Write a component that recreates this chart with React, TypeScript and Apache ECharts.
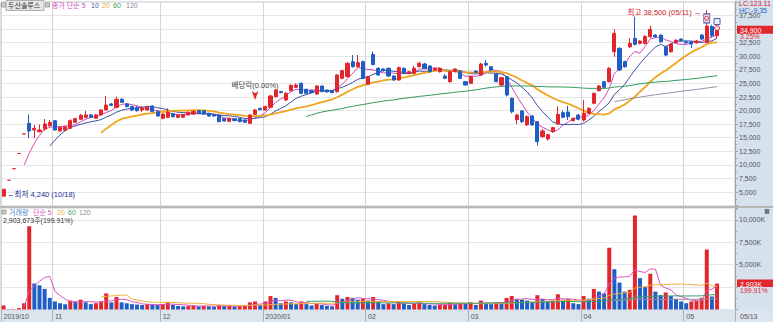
import React, { useEffect, useRef } from "react";
import * as echarts from "echarts";

// ---------- categories ----------
const monthKeys = ["2019/10", "2019/11", "2019/12", "2020/01", "2020/02", "2020/03", "2020/04", "2020/05"];
const monthTickLabels = ["2019/10", "11", "12", "2020/01", "02", "03", "04", "05"];
const daysOct = [18, 21, 22, 23, 24, 25, 28, 29, 30, 31];
const daysNov = [1, 4, 5, 6, 7, 8, 11, 12, 13, 14, 15, 18, 19, 20, 21, 22, 25, 26, 27, 28, 29];
const daysDec = [2, 3, 4, 5, 6, 9, 10, 11, 12, 13, 16, 17, 18, 19, 20, 23, 24, 26, 27, 30];
const daysJan = [2, 3, 6, 7, 8, 9, 10, 13, 14, 15, 16, 17, 20, 21, 22, 23, 28, 29, 30, 31];
const daysFeb = [3, 4, 5, 6, 7, 10, 11, 12, 13, 14, 17, 18, 19, 20, 21, 24, 25, 26, 27, 28];
const daysMar = [2, 3, 4, 5, 6, 9, 10, 11, 12, 13, 16, 17, 18, 19, 20, 23, 24, 25, 26, 27, 30, 31];
const daysApr = [1, 2, 3, 6, 7, 8, 9, 10, 13, 14, 16, 17, 20, 21, 22, 23, 24, 27, 28, 29];
const daysMay = [4, 6, 7, 8, 11, 12, 13];
const tradingDays = [daysOct, daysNov, daysDec, daysJan, daysFeb, daysMar, daysApr, daysMay];
const emptySlots = 3;

// ---------- prices [open, close, low, high] ----------
const ohlcOct = [
  [4240, 5510, 4240, 5510], [7160, 7160, 7160, 7160], [9300, 9300, 9300, 9300], [12100, 12100, 12100, 12100],
  [15700, 15700, 15700, 15700], [17650, 16250, 14900, 19300], [16430, 16730, 14900, 17350], [16120, 16430, 15940, 17470],
  [16610, 17530, 16300, 18450], [17230, 17840, 17000, 18270],
];
const ohlcNov = [
  [18150, 16430, 16300, 18300], [16240, 16920, 16100, 17100], [16400, 17000, 16200, 17200], [16730, 18150, 16600, 18400],
  [17840, 18510, 17700, 18700], [18390, 19130, 18300, 19400], [18760, 19190, 18580, 19930], [19190, 18760, 18600, 19400],
  [18580, 19190, 18500, 19400], [19190, 20110, 19100, 20300], [20110, 21030, 20000, 22690], [21220, 20970, 20800, 21400],
  [20600, 22080, 20420, 22570], [22080, 21520, 21400, 22300], [21220, 20730, 20600, 21400], [20730, 20110, 19900, 20900],
  [20600, 19990, 19800, 20800], [20110, 20420, 19700, 20800], [20110, 20600, 20000, 20900], [20850, 19800, 19700, 21000],
  [19800, 19000, 18900, 20000],
];
const ohlcDec = [
  [18580, 19370, 18400, 19500], [18760, 19680, 18600, 20400], [19440, 18880, 18700, 19600], [18760, 19190, 18600, 19300],
  [18760, 19250, 18650, 19400], [19190, 19680, 19100, 19800], [19370, 19860, 19300, 20000], [19990, 19500, 19400, 20100],
  [19990, 19370, 19300, 20100], [19500, 19000, 18900, 19600], [19190, 19000, 18900, 19300], [19190, 17960, 17850, 19300],
  [18510, 18080, 17950, 18600], [18020, 18580, 17900, 18700], [18510, 18150, 18050, 18600], [18510, 17960, 17850, 18600],
  [18270, 17840, 17700, 18400], [17650, 19190, 17550, 19300], [19310, 20110, 19200, 20300], [20420, 20170, 20000, 20500],
];
const ohlcJan = [
  [20110, 20730, 20000, 20900], [20600, 22690, 20500, 22900], [22570, 23790, 22400, 24000], [23490, 23300, 23200, 23600],
  [21950, 23180, 21800, 23400], [23670, 24650, 23500, 24800], [24290, 24710, 24200, 25000], [25020, 23180, 23000, 25200],
  [23920, 23180, 23000, 24000], [23670, 23300, 23200, 23800], [23060, 24530, 22900, 24700], [24530, 23490, 23400, 24600],
  [23790, 23430, 23300, 23900], [23670, 23300, 23200, 23800], [23490, 26560, 23300, 26700], [25940, 27360, 25800, 27500],
  [26250, 28710, 26100, 28900], [29010, 28090, 27900, 30240], [28090, 28830, 27900, 30240], [29010, 25940, 25800, 29200],
];
const ohlcFeb = [
  [24840, 26250, 24700, 26400], [30330, 28490, 28300, 30900], [27790, 26560, 26400, 28000], [27660, 27350, 27200, 27800],
  [27790, 26370, 26200, 27900], [26370, 25640, 25500, 26500], [25640, 27910, 25500, 28100], [27790, 26860, 26700, 27900],
  [26860, 27170, 26700, 27300], [26860, 27790, 26700, 28200], [28090, 28710, 28000, 29010], [28580, 27790, 27700, 28800],
  [28220, 27170, 27000, 28300], [27480, 27790, 27300, 27900], [27170, 27790, 27000, 27900], [26370, 25940, 25800, 26700],
  [25330, 27170, 25100, 27300], [27170, 27660, 27000, 27800], [27170, 25940, 25800, 27300], [25330, 24710, 24600, 25400],
];
const ohlcMar = [
  [25020, 26250, 24900, 26400], [27290, 27050, 26900, 27400], [26560, 28580, 26400, 28800], [28710, 28400, 28090, 29320],
  [28090, 27480, 27300, 28200], [26740, 25330, 25200, 26900], [24710, 26070, 24500, 26200], [26250, 22870, 22600, 26400],
  [22260, 19800, 19500, 22400], [18330, 19190, 17500, 19400], [19930, 17960, 17700, 20100], [17350, 18880, 17200, 19100],
  [19000, 17350, 17200, 19200], [17960, 14280, 13540, 18100], [15200, 16240, 15000, 16600], [14770, 15570, 14500, 15700],
  [16120, 16860, 15900, 17000], [17530, 19310, 17400, 20800], [19620, 18760, 18600, 20000], [19740, 18880, 18270, 20850],
  [18150, 18580, 18000, 18700], [19190, 18390, 18200, 19400],
];
const ohlcApr = [
  [18270, 19500, 17960, 21950], [19500, 20420, 19400, 20600], [21340, 23180, 21200, 23300], [23670, 24530, 23500, 24700],
  [25330, 24290, 24200, 25400], [25330, 27790, 25200, 28000], [30830, 34230, 29900, 34970], [31450, 27480, 27300, 31700],
  [29010, 28090, 27900, 29200], [31760, 32370, 31500, 33300], [33290, 32190, 32000, 37280], [32370, 32800, 32200, 33000],
  [32370, 33660, 32200, 33900], [33600, 34950, 33400, 35630], [33900, 33600, 33400, 34100], [33900, 32680, 32500, 34000],
  [31760, 30220, 30000, 31900], [30830, 32250, 30700, 32400], [32550, 32980, 32400, 33100], [33170, 32860, 32700, 33300],
];
const ohlcMay = [
  [32680, 32490, 32300, 32800], [32680, 32250, 31500, 32800], [32490, 32800, 32300, 33000], [33900, 33170, 33000, 34100],
  [32550, 35560, 32400, 38500], [35470, 33800, 33500, 35800], [33800, 34900, 33300, 35200],
];

// ---------- volume (thousand shares) ----------
const volOct = [450, 40, 50, 150, 700, 9300, 2900, 2700, 2300, 1300];
const volNov = [900, 700, 600, 1000, 900, 1100, 800, 600, 700, 900, 1800, 800, 1400, 800, 700, 600, 550, 500, 600, 550, 500];
const volDec = [600, 800, 500, 400, 350, 400, 450, 350, 400, 350, 300, 500, 400, 450, 350, 380, 420, 800, 900, 500];
const volJan = [900, 1500, 1300, 700, 900, 800, 600, 900, 600, 450, 700, 500, 400, 350, 1600, 1200, 1400, 1300, 1100, 1200];
const volFeb = [1000, 1400, 900, 600, 700, 600, 900, 700, 500, 700, 800, 600, 500, 450, 500, 550, 800, 600, 700, 650];
const volMar = [800, 500, 1000, 700, 600, 800, 700, 1300, 1500, 1200, 1100, 1000, 800, 1600, 1200, 900, 1000, 1700, 1100, 1200, 700, 600];
const volApr = [1500, 1200, 2300, 2000, 1800, 6900, 4500, 3000, 2000, 2200, 10500, 3500, 2500, 4000, 2000, 1600, 1900, 1500, 1200, 900];
const volMay = [700, 900, 1000, 1300, 6700, 1452.5, 2903.673];

// ---------- annotations / texts ----------
const lowIdx = 0;
const highIdx = 137;
const exDivIdx = 49;
const lowText = "←최저 4,240 (10/18)";
const highText = "최고 38,500 (05/11) →";
const exDivText = "배당락(0.00%)";
const lcText = "LC:123.11";
const hcText = "HC:-9.35";
const lastDateText = "05/13";
const signalIdx = [137, 139];
const maPeriodsPrice = [5, 10, 20, 60, 120];
const maPeriodsVol = [5, 20, 60, 120];

const FONT = "'Liberation Sans', 'Noto Sans CJK KR', sans-serif";
const RED = "#e3262b";
const BLUE = "#1f5ec4";
const PANEL = "#d6e1ee";
const priceMaColors = ["#d24bb8", "#3f4fa6", "#efa51c", "#2f9b5a", "#9a8fa8"];
const volMaColors = ["#dd55c0", "#f0b03c", "#3aa06a", "#9a8fa8"];

function sma(arr: number[], n: number) {
  return arr.map((_, i) => {
    if (i < n - 1) return "-";
    let s = 0;
    for (let k = i - n + 1; k <= i; k++) s += arr[k];
    return +(s / n).toFixed(1);
  });
}

export default function App() {
  const ref = useRef<HTMLDivElement>(null);

  useEffect(() => {
    document.body.style.margin = "0";
    if (!ref.current) return;
    const chart = echarts.init(ref.current, undefined, { renderer: "svg" });

    const cats: string[] = [];
    const firstIdx = new Map<number, string>();
    tradingDays.forEach((days, m) => {
      days.forEach((d, j) => {
        if (j === 0) firstIdx.set(cats.length, monthTickLabels[m]);
        cats.push(`${monthKeys[m]}/${String(d).padStart(2, "0")}`);
      });
    });
    for (let k = 0; k < emptySlots; k++) cats.push(" ".repeat(k + 1));
    const isFirst = (i: number) => firstIdx.has(i);

    const ohlc = [...ohlcOct, ...ohlcNov, ...ohlcDec, ...ohlcJan, ...ohlcFeb, ...ohlcMar, ...ohlcApr, ...ohlcMay];
    const vols = [...volOct, ...volNov, ...volDec, ...volJan, ...volFeb, ...volMar, ...volApr, ...volMay];
    const closes = ohlc.map((r) => r[1]);
    const n = ohlc.length;
    const lastClose = closes[n - 1];
    const prevClose = closes[n - 2];
    const lastVol = vols[n - 1];
    const prevVol = vols[n - 2];
    const chg = (((lastClose - prevClose) / prevClose) * 100).toFixed(2) + "%";
    const vchg = ((lastVol / prevVol) * 100).toFixed(2) + "%";

    const volData = vols.map((v, i) => ({
      value: v,
      itemStyle: { color: i === 0 || v >= vols[i - 1] ? RED : BLUE },
    }));

    const fmt = (v: number) => v.toLocaleString("en-US");
    const lbl = (extra: any) => ({ fontFamily: FONT, fontSize: 7.5, ...extra });

    const markLineLabel = (main: string, sub: string, subBg: string) => ({
      show: true,
      position: "end",
      distance: 2,
      formatter: `{z| }\n{a|${main}}\n{b|${sub}}`,
      rich: {
        z: { fontFamily: FONT, fontSize: 7, lineHeight: 7, height: 7 },
        a: {
          fontFamily: FONT, fontSize: 7, lineHeight: 7, height: 7, width: 33,
          color: "#fff", backgroundColor: RED, padding: [1, 0, 0, 3],
        },
        b: {
          fontFamily: FONT, fontSize: 7, lineHeight: 7, height: 7, width: 33,
          color: RED, backgroundColor: subBg, padding: [0, 0, 0, 3],
        },
      },
    });

    const priceSeries: any[] = maPeriodsPrice.map((p, k) => ({
      type: "line",
      name: `MA${p}`,
      xAxisIndex: 0,
      yAxisIndex: 0,
      data: sma(closes, p),
      showSymbol: false,
      symbol: "none",
      silent: true,
      z: 1,
      lineStyle: { color: priceMaColors[k], width: p === 20 ? 1.8 : 1 },
    }));

    const volSeries: any[] = maPeriodsVol.map((p, k) => ({
      type: "line",
      name: `VMA${p}`,
      xAxisIndex: 1,
      yAxisIndex: 1,
      data: sma(vols, p),
      showSymbol: false,
      symbol: "none",
      silent: true,
      z: 3,
      lineStyle: { color: volMaColors[k], width: 1 },
    }));

    const signalMarks = [
      {
        coord: [cats[signalIdx[0]], ohlc[signalIdx[0]][3] - 1500],
        symbol: "rect", symbolSize: [6, 9],
        itemStyle: { color: "#f6dbe6", borderColor: "#4a5bb8", borderWidth: 1 },
      },
      {
        coord: [cats[signalIdx[0]], ohlc[signalIdx[0]][3] - 1500],
        symbol: "circle", symbolSize: 4,
        itemStyle: { color: "rgba(0,0,0,0)", borderColor: RED, borderWidth: 1 },
      },
      {
        coord: [cats[signalIdx[1]], ohlc[signalIdx[1]][3] + 1200],
        symbol: "rect", symbolSize: [6, 6],
        itemStyle: { color: "#eef0fb", borderColor: "#4a5bb8", borderWidth: 1 },
      },
      {
        coord: [cats[signalIdx[1]], ohlc[signalIdx[1]][3]],
        symbol: "circle", symbolSize: 5,
        itemStyle: { color: "#f6dbe6", borderColor: RED, borderWidth: 1 },
      },
    ];

    const option: any = {
      animation: false,
      textStyle: { fontFamily: FONT, fontSize: 7 },
      grid: [
        { left: 1, right: 38, top: 2, height: 203.6, show: true, backgroundColor: "#fff", borderColor: "#bdbdbd", borderWidth: 1 },
        { left: 1, right: 38, top: 208, height: 101.5, show: true, backgroundColor: "#fff", borderColor: "#bdbdbd", borderWidth: 1 },
      ],
      xAxis: [
        {
          type: "category", gridIndex: 0, data: cats, boundaryGap: true,
          axisLine: { show: false }, axisTick: { show: false }, axisLabel: { show: false },
          splitLine: { show: true, interval: isFirst, lineStyle: { color: "#d5d5d5", width: 1 } },
        },
        {
          type: "category", gridIndex: 1, data: cats, boundaryGap: true,
          axisLine: { show: false },
          axisTick: { show: true, interval: isFirst, length: 12, lineStyle: { color: "#a6b0bc" } },
          axisLabel: {
            show: true, interval: isFirst, align: "left", margin: 3, color: "#555",
            fontFamily: FONT, fontSize: 7,
            formatter: (_v: string, i: number) => firstIdx.get(i) || "",
          },
          splitLine: { show: true, interval: isFirst, lineStyle: { color: "#d5d5d5", width: 1 } },
        },
      ],
      yAxis: [
        {
          type: "value", gridIndex: 0, position: "right", min: 2500, max: 40000, interval: 2500,
          axisLine: { show: true, lineStyle: { color: "#98a4b2" } },
          axisTick: { show: true, length: 3, lineStyle: { color: "#98a4b2" } },
          minorTick: { show: true, splitNumber: 2, length: 2, lineStyle: { color: "#98a4b2" } },
          axisLabel: {
            show: true, margin: 4, color: "#555", fontFamily: FONT, fontSize: 7,
            showMinLabel: false, showMaxLabel: false, formatter: (v: number) => fmt(v),
          },
          splitLine: { show: true, lineStyle: { color: "#e6e6e6" } },
        },
        {
          type: "value", gridIndex: 1, position: "right", min: 0, max: 11340, interval: 2500,
          axisLine: { show: true, lineStyle: { color: "#98a4b2" } },
          axisTick: { show: true, length: 3, lineStyle: { color: "#98a4b2" } },
          minorTick: { show: true, splitNumber: 2, length: 2, lineStyle: { color: "#98a4b2" } },
          axisLabel: {
            show: true, margin: 4, color: "#555", fontFamily: FONT, fontSize: 7,
            showMinLabel: false, showMaxLabel: false, formatter: (v: number) => fmt(v) + "K",
          },
          splitLine: { show: true, lineStyle: { color: "#e6e6e6" } },
        },
      ],
      series: [
        ...priceSeries,
        {
          type: "candlestick",
          name: "price",
          xAxisIndex: 0,
          yAxisIndex: 0,
          data: ohlc,
          barWidth: 3.6,
          z: 2,
          itemStyle: { color: RED, color0: BLUE, borderColor: RED, borderColor0: BLUE, borderWidth: 1 },
          markPoint: {
            silent: true,
            data: [
              {
                coord: [cats[lowIdx], ohlc[lowIdx][2]],
                symbol: "circle", symbolSize: 1, itemStyle: { color: "rgba(0,0,0,0)" },
                label: lbl({ show: true, position: "right", distance: 3, offset: [0, -2], color: "#1b2a8f", formatter: lowText }),
              },
              {
                coord: [cats[highIdx], ohlc[highIdx][3]],
                symbol: "circle", symbolSize: 1, itemStyle: { color: "rgba(0,0,0,0)" },
                label: lbl({ show: true, position: "left", distance: 5, offset: [0, 2], color: "#d0202a", formatter: highText }),
              },
              {
                coord: [cats[exDivIdx], ohlc[exDivIdx][3]],
                symbol: "arrow", symbolRotate: 180, symbolSize: [5, 9], symbolOffset: [0, -9],
                itemStyle: { color: RED },
                label: lbl({ show: true, position: "top", distance: 2, color: "#444", formatter: exDivText }),
              },
              ...signalMarks,
            ],
          },
          markLine: {
            silent: true,
            symbol: ["none", "none"],
            lineStyle: { color: "rgba(0,0,0,0)", width: 0 },
            label: markLineLabel(fmt(lastClose), chg, "rgba(0,0,0,0)"),
            data: [{ yAxis: lastClose }],
          },
        },
        {
          type: "bar",
          name: "volume",
          xAxisIndex: 1,
          yAxisIndex: 1,
          data: volData,
          barWidth: 4,
          z: 2,
          markLine: {
            silent: true,
            symbol: ["none", "none"],
            lineStyle: { color: "rgba(0,0,0,0)", width: 0 },
            label: markLineLabel(fmt(Math.floor(lastVol)) + "K", vchg, PANEL),
            data: [{ yAxis: lastVol }],
          },
        },
        ...volSeries,
      ],
      graphic: [
        // price panel legend
        { type: "rect", shape: { x: 1.5, y: 3, width: 4, height: 4 }, style: { fill: "#d0d0d0", stroke: "#8a8a8a", lineWidth: 0.8 }, z: 10 },
        { type: "rect", shape: { x: 6, y: 0.5, width: 38, height: 10 }, style: { fill: "#e6e6e6", stroke: "#b0b0b0", lineWidth: 1 }, z: 10 },
        { type: "text", x: 8, y: 5.5, z: 11, style: { text: "두산솔루스", fill: "#333", fontSize: 7, fontFamily: FONT, verticalAlign: "middle" } },
        { type: "rect", shape: { x: 45.5, y: 3, width: 4, height: 4 }, style: { fill: "#d0d0d0", stroke: "#8a8a8a", lineWidth: 0.8 }, z: 10 },
        { type: "text", x: 52, y: 5.5, z: 11, style: { text: "종가 단순 5", fill: priceMaColors[0], fontSize: 7, fontFamily: FONT, verticalAlign: "middle" } },
        { type: "text", x: 91, y: 5.5, z: 11, style: { text: "10", fill: priceMaColors[1], fontSize: 7, fontFamily: FONT, verticalAlign: "middle" } },
        { type: "text", x: 102, y: 5.5, z: 11, style: { text: "20", fill: priceMaColors[2], fontSize: 7, fontFamily: FONT, verticalAlign: "middle" } },
        { type: "text", x: 113, y: 5.5, z: 11, style: { text: "60", fill: priceMaColors[3], fontSize: 7, fontFamily: FONT, verticalAlign: "middle" } },
        { type: "text", x: 126, y: 5.5, z: 11, style: { text: "120", fill: "#8a8a94", fontSize: 7, fontFamily: FONT, verticalAlign: "middle" } },
        // volume panel legend
        { type: "rect", shape: { x: 2, y: 210, width: 4, height: 4 }, style: { fill: "#d0d0d0", stroke: "#8a8a8a", lineWidth: 0.8 }, z: 10 },
        { type: "text", x: 9, y: 212.5, z: 11, style: { text: "거래량", fill: "#4f86cf", fontSize: 7, fontFamily: FONT, verticalAlign: "middle" } },
        { type: "text", x: 33, y: 212.5, z: 11, style: { text: "단순 5", fill: volMaColors[0], fontSize: 7, fontFamily: FONT, verticalAlign: "middle" } },
        { type: "text", x: 57, y: 212.5, z: 11, style: { text: "20", fill: volMaColors[1], fontSize: 7, fontFamily: FONT, verticalAlign: "middle" } },
        { type: "text", x: 68, y: 212.5, z: 11, style: { text: "60", fill: volMaColors[2], fontSize: 7, fontFamily: FONT, verticalAlign: "middle" } },
        { type: "text", x: 79, y: 212.5, z: 11, style: { text: "120", fill: "#8a8a94", fontSize: 7, fontFamily: FONT, verticalAlign: "middle" } },
        {
          type: "text", x: 3, y: 220.5, z: 11,
          style: { text: `${fmt(Math.round(lastVol * 1000))}주(${vchg})`, fill: "#333", fontSize: 7, fontFamily: FONT, verticalAlign: "middle" },
        },
        // right panel texts
        { type: "text", x: 739, y: 3.5, z: 11, style: { text: lcText, fill: "#d0202a", fontSize: 7, fontFamily: FONT, verticalAlign: "middle" } },
        { type: "text", x: 739, y: 10.5, z: 11, style: { text: hcText, fill: "#2b62c4", fontSize: 7, fontFamily: FONT, verticalAlign: "middle" } },
        { type: "text", x: 740, y: 316, z: 11, style: { text: lastDateText, fill: "#555", fontSize: 7, fontFamily: FONT, verticalAlign: "middle" } },
        { type: "rect", shape: { x: 765, y: 209.5, width: 4, height: 4 }, style: { fill: "#707a86", stroke: "#505a66", lineWidth: 0.5 }, z: 10 },
      ],
    };

    chart.setOption(option);
    return () => chart.dispose();
  }, []);

  return (
    <div style={{ position: "relative", width: 773, height: 322, background: "#fff", overflow: "hidden" }}>
      <div style={{ position: "absolute", left: 735, top: 0, width: 38, height: 322, background: PANEL }} />
      <div style={{ position: "absolute", left: 0, top: 310, width: 773, height: 12, background: "#dce4ee" }} />
      <div style={{ position: "absolute", left: 0, top: 206, width: 773, height: 2, background: "#b6b6b6" }} />
      <div ref={ref} style={{ position: "absolute", left: 0, top: 0, width: 773, height: 322 }} />
    </div>
  );
}
